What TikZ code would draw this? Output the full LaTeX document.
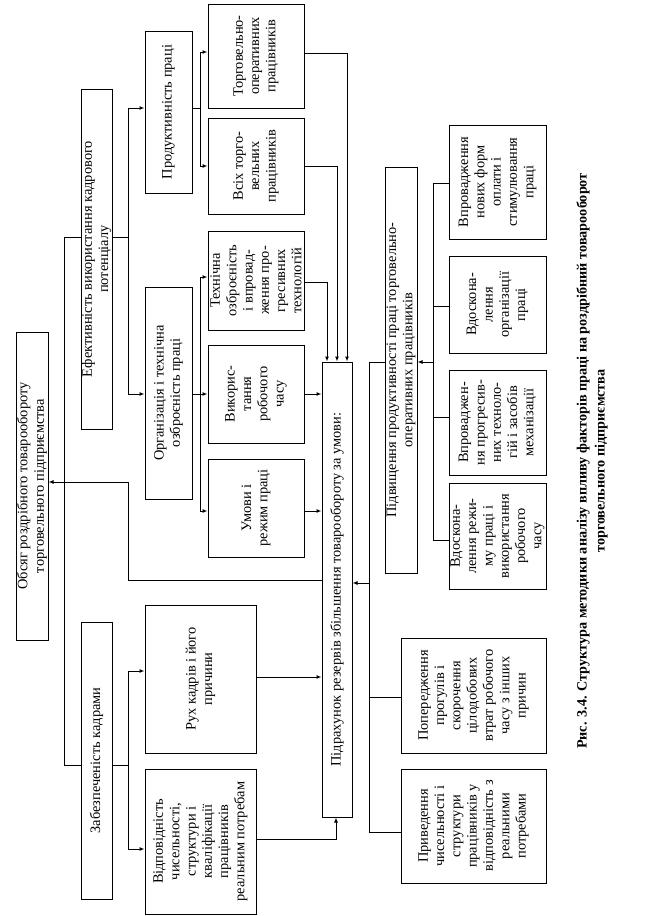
\documentclass[tikz,border=0pt]{standalone}
\usepackage{fontspec}
\setmainfont{Liberation Serif}
\usetikzlibrary{arrows.meta}
\begin{document}
\begin{tikzpicture}[x=1pt,y=-1pt,
  box/.style={draw, line width=1pt, rotate=90, inner sep=0pt, align=center,
    font=\fontsize{14.4}{16.3}\selectfont},
  conn/.style={line width=1pt},
  arr/.style={line width=1pt, -{Latex[length=5pt,width=4pt]}},
  captext/.style={rotate=90, align=center, font=\bfseries\fontsize{14.2}{18}\selectfont}
]
\useasboundingbox (0,0) rectangle (656,916);

\node[box, minimum width=308, minimum height=32] (obs) at (32,486) {Обсяг роздрібного товарообороту\\торговельного підприємства};
\node[box, minimum width=340, minimum height=31] (eff) at (96.5,259) {Ефективність використання кадрового\\потенціалу};
\node[box, minimum width=277, minimum height=31] (zab) at (96.5,760.5) {Забезпеченість кадрами};
\node[box, minimum width=162, minimum height=47] (prod) at (168.5,112) {Продуктивність праці};
\node[box, minimum width=212, minimum height=47] (org) at (168.5,393) {Організація і технічна\\озброєність праці};
\node[box, minimum width=104, minimum height=96] (torgop) at (256,56) {Торговельно-\\оперативних\\працівників};
\node[box, minimum width=96, minimum height=96] (vsih) at (256,166) {Всіх торго-\\вельних\\працівників};
\node[box, minimum width=99, minimum height=96] (tech) at (256,280.5) {Технічна\\озброєність\\і впровад-\\ження про-\\гресивних\\технологій};
\node[box, minimum width=98, minimum height=96] (vykor) at (256,394) {Викорис-\\тання\\робочого\\часу};
\node[box, minimum width=98, minimum height=96] (umovy) at (256,508) {Умови і\\режим праці};
\node[box, minimum width=148, minimum height=111] (ruh) at (200.5,679) {Рух кадрів і його\\причини};
\node[box, minimum width=145, minimum height=111] (vidp) at (200.5,841.5) {Відповідність\\чисельності,\\структури і\\кваліфікації\\працівників\\реальним потребам};
\node[box, minimum width=455, minimum height=30] (pidr) at (337,589.5) {Підрахунок резервів збільшення товарообороту за умови:};
\node[box, minimum width=406, minimum height=32] (pidv) at (401,370) {Підвищення продуктивності праці торговельно-\\оперативних працівників};
\node[box, minimum width=114, minimum height=97] (vpr1) at (497.5,182) {Впровадження\\нових форм\\оплати і\\стимулювання\\праці};
\node[box, minimum width=97, minimum height=97] (vdos1) at (497.5,304.5) {Вдоскона-\\лення\\організації\\праці};
\node[box, minimum width=105, minimum height=97] (vpr2) at (497.5,422.5) {Впроваджен-\\ня прогресив-\\них техноло-\\гій і засобів\\механізації};
\node[box, minimum width=106, minimum height=97] (vdos2) at (497.5,536) {Вдоскона-\\лення режи-\\му праці і\\використання\\робочого\\часу};
\node[box, minimum width=115, minimum height=145] (poper) at (473.5,695.5) {Попередження\\прогулів і\\скорочення\\цілодобових\\втрат робочого\\часу з інших\\причин};
\node[box, minimum width=114, minimum height=145] (pryv) at (473.5,826) {Приведення\\чисельності і\\структури\\працівників у\\відповідність з\\реальними\\потребами};

\node[captext] (caption) at (592,461) {Рис. 3.4. Структура методики аналізу впливу факторів праці на роздрібний товарооборот\\торговельного підприємства};

% left spine
\coordinate (sp1) at (64,237);
\coordinate (sp2) at (64,765);
\draw[conn] (eff.north |- sp1) -- (sp1) -- (sp2) -- (zab.north |- sp2);

% efficiency branch
\coordinate (b1t) at (128,108);
\coordinate (b1b) at (128,394);
\draw[conn] (eff.south |- sp1) -- (128,237);
\draw[conn] (b1t) -- (b1b);
\draw[arr] (b1t) -- (prod.north |- b1t);
\draw[arr] (b1b) -- (org.north |- b1b);

% productivity
\coordinate (p1) at (200,52);
\coordinate (p2) at (200,166);
\draw[conn] (prod.south |- b1t) -- (200,108);
\draw[conn] (p1) -- (p2);
\draw[arr] (p1) -- (torgop.north |- p1);
\draw[arr] (p2) -- (vsih.north |- p2);

% organisation
\coordinate (o1) at (200,277);
\coordinate (o2) at (200,394);
\coordinate (o3) at (200,511);
\draw[conn] (org.south |- o2) -- (o2);
\draw[conn] (o1) -- (o3);
\draw[arr] (o1) -- (tech.north |- o1);
\draw[arr] (o2) -- (vykor.north |- o2);
\draw[arr] (o3) -- (umovy.north |- o3);

% into calculation box
\draw[arr] (vykor.south |- o2) -- (pidr.north |- o2);
\draw[arr] (umovy.south |- o3) -- (pidr.north |- o3);
\draw[arr] (tech.south |- 0,282) -| (327,0 |- pidr.east);
\draw[arr] (vsih.south |- 0,166) -| (337,0 |- pidr.east);
\draw[arr] (torgop.south |- 0,53) -| (347,0 |- pidr.east);

% calculation to volume
\draw[arr] (pidr.north |- 0,580) -- (128,580) -- (128,482) -- (obs.south |- 0,482);

% staffing
\coordinate (z1) at (128,671);
\coordinate (z2) at (128,849);
\draw[conn] (zab.south |- sp2) -- (128,765);
\draw[conn] (z1) -- (z2);
\draw[arr] (z1) -- (ruh.north |- z1);
\draw[arr] (z2) -- (vidp.north |- z2);
\draw[arr] (ruh.south |- 0,677) -- (pidr.north |- 0,677);
\draw[arr] (vidp.south |- 0,839) -| (336,0 |- pidr.west);

% right bus
\coordinate (r1) at (369,362);
\coordinate (r2) at (369,832);
\draw[conn] (pidv.north |- r1) -- (r1) -- (r2) -- (pryv.north |- r2);
\draw[conn] (369,697) -- (poper.north |- 0,697);
\draw[arr] (369,583) -- (pidr.south |- 0,583);

% second right bus
\coordinate (q1) at (433,183);
\coordinate (q4) at (433,540);
\draw[conn] (q1) -- (q4);
\draw[arr] (433,362) -- (pidv.south |- 0,362);
\draw[conn] (q1) -- (vpr1.north |- q1);
\draw[conn] (433,306) -- (vdos1.north |- 0,306);
\draw[conn] (433,417) -- (vpr2.north |- 0,417);
\draw[conn] (q4) -- (vdos2.north |- q4);
\end{tikzpicture}
\end{document}
